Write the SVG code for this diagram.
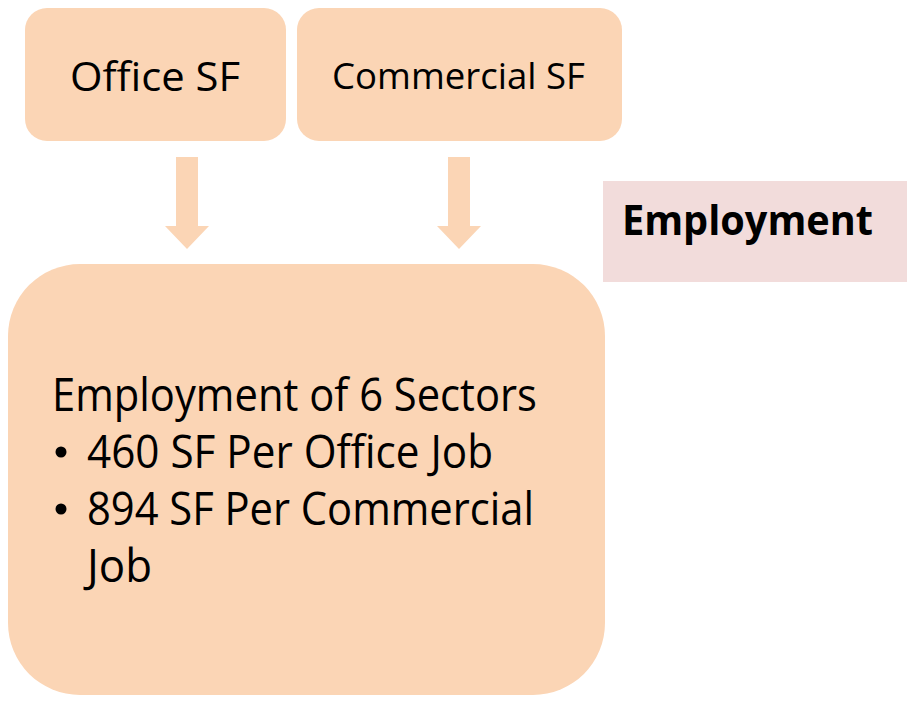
<svg xmlns="http://www.w3.org/2000/svg" width="909" height="703" viewBox="0 0 909 703">
<style>
.box{fill:#FBD5B5;}
.arrow{fill:#FBD5B5;}
.t{font-family:"Open Sans","Noto Sans","Liberation Sans",sans-serif;fill:#000;}
</style>
<rect width="909" height="703" fill="#ffffff"/>
<g id="node-office">
<rect class="box" x="25" y="8" width="261" height="133" rx="22"/>
<text class="t" x="70" y="91" font-size="41" textLength="170" lengthAdjust="spacingAndGlyphs">Office SF</text>
</g>
<g id="node-commercial">
<rect class="box" x="297" y="8" width="325" height="133" rx="22"/>
<text class="t" x="332" y="89" font-size="37" textLength="253" lengthAdjust="spacingAndGlyphs">Commercial SF</text>
</g>
<g id="connectors">
<polygon class="arrow" points="176,157 198,157 198,226 209,226 187,249 165,226 176,226"/>
<polygon class="arrow" points="448,157 470,157 470,226 481,226 459,249 437,226 448,226"/>
</g>
<g id="node-employment-label">
<rect x="603" y="181" width="304" height="101" fill="#F2DCDB"/>
<text class="t" x="622" y="235" font-size="41" font-weight="bold" textLength="251" lengthAdjust="spacingAndGlyphs">Employment</text>
</g>
<g id="node-sectors">
<rect class="box" x="8" y="264" width="597" height="431" rx="72"/>
<text class="t" x="52" y="411" font-size="45" textLength="485" lengthAdjust="spacingAndGlyphs">Employment of 6 Sectors</text>
<circle cx="61" cy="452" r="5.5" fill="#000"/>
<text class="t" x="87" y="468" font-size="45" textLength="406" lengthAdjust="spacingAndGlyphs">460 SF Per Office Job</text>
<circle cx="61" cy="509" r="5.5" fill="#000"/>
<text class="t" x="87" y="525" font-size="45" textLength="447" lengthAdjust="spacingAndGlyphs">894 SF Per Commercial</text>
<text class="t" x="87" y="582" font-size="45" textLength="65" lengthAdjust="spacingAndGlyphs">Job</text>
</g>
</svg>
